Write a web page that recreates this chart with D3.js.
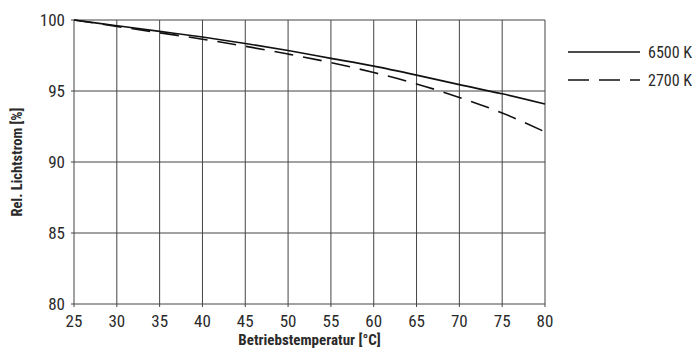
<!DOCTYPE html>
<html><head><meta charset="utf-8">
<script src="https://cdn.jsdelivr.net/npm/d3@7"></script>
<style>
body{margin:0;background:#fff;}
svg text{font-family:"Liberation Sans Narrow","Arial Narrow","Roboto Condensed",sans-serif;fill:#2a2a2a;}
</style></head><body>
<svg id="c" width="697" height="354"></svg>
<script>
const temps = [25,30,35,40,45,50,55,60,65,70,75,80];
const k6500 = [100,99.6,99.2,98.8,98.35,97.85,97.3,96.75,96.12,95.45,94.8,94.08];
const k2700 = [100,99.55,99.1,98.65,98.15,97.6,97.0,96.3,95.5,94.55,93.45,92.12];
const yTicks = [80,85,90,95,100];
const seriesNames = ["6500 K","2700 K"];

const svg = d3.select("#c");
const m = {l:74, r:545, t:20, b:304};
const x = d3.scaleLinear().domain([25,80]).range([m.l,m.r]);
const y = d3.scaleLinear().domain([80,100]).range([m.b,m.t]);

// grid
svg.append("g").selectAll("line").data(temps).join("line")
  .attr("x1",d=>x(d)).attr("x2",d=>x(d)).attr("y1",m.t).attr("y2",m.b+3)
  .attr("stroke","#444").attr("stroke-width",1);
svg.append("g").selectAll("line").data(yTicks).join("line")
  .attr("x1",m.l-3).attr("x2",m.r).attr("y1",d=>y(d)).attr("y2",d=>y(d))
  .attr("stroke","#444").attr("stroke-width",1);

// tick labels
svg.append("g").selectAll("text").data(yTicks).join("text")
  .attr("x",m.l-9).attr("y",d=>y(d)).attr("dy","0.35em")
  .attr("text-anchor","end").attr("font-size",17).text(d=>d);
svg.append("g").selectAll("text").data(temps).join("text")
  .attr("x",d=>x(d)).attr("y",m.b+23)
  .attr("text-anchor","middle").attr("font-size",17).text(d=>d);

// titles
svg.append("text").attr("x",(m.l+m.r)/2).attr("y",345).attr("text-anchor","middle")
  .attr("font-size",15).attr("font-weight","bold").text("Betriebstemperatur [°C]");
svg.append("text").attr("transform",`translate(22,${(m.t+m.b)/2}) rotate(-90)`)
  .attr("text-anchor","middle").attr("font-size",14.5).attr("font-weight","bold").text("Rel. Lichtstrom [%]");

const line = d3.line().x((d,i)=>x(temps[i])).y(d=>y(d)).curve(d3.curveMonotoneX);
svg.append("path").attr("d",line(k6500)).attr("fill","none").attr("stroke","#111").attr("stroke-width",1.6);
svg.append("path").attr("d",line(k2700)).attr("fill","none").attr("stroke","#111").attr("stroke-width",1.6)
  .attr("stroke-dasharray","19,10");

// legend
const lg = [{n:seriesNames[0],dash:null,y:52},{n:seriesNames[1],dash:"21,10",y:80}];
lg.forEach(d=>{
  svg.append("line").attr("x1",568).attr("x2",640).attr("y1",d.y).attr("y2",d.y)
    .attr("stroke","#111").attr("stroke-width",1.6).attr("stroke-dasharray",d.dash);
  svg.append("text").attr("x",648).attr("y",d.y).attr("dy","0.35em").attr("font-size",16).text(d.n);
});
</script></body></html>
